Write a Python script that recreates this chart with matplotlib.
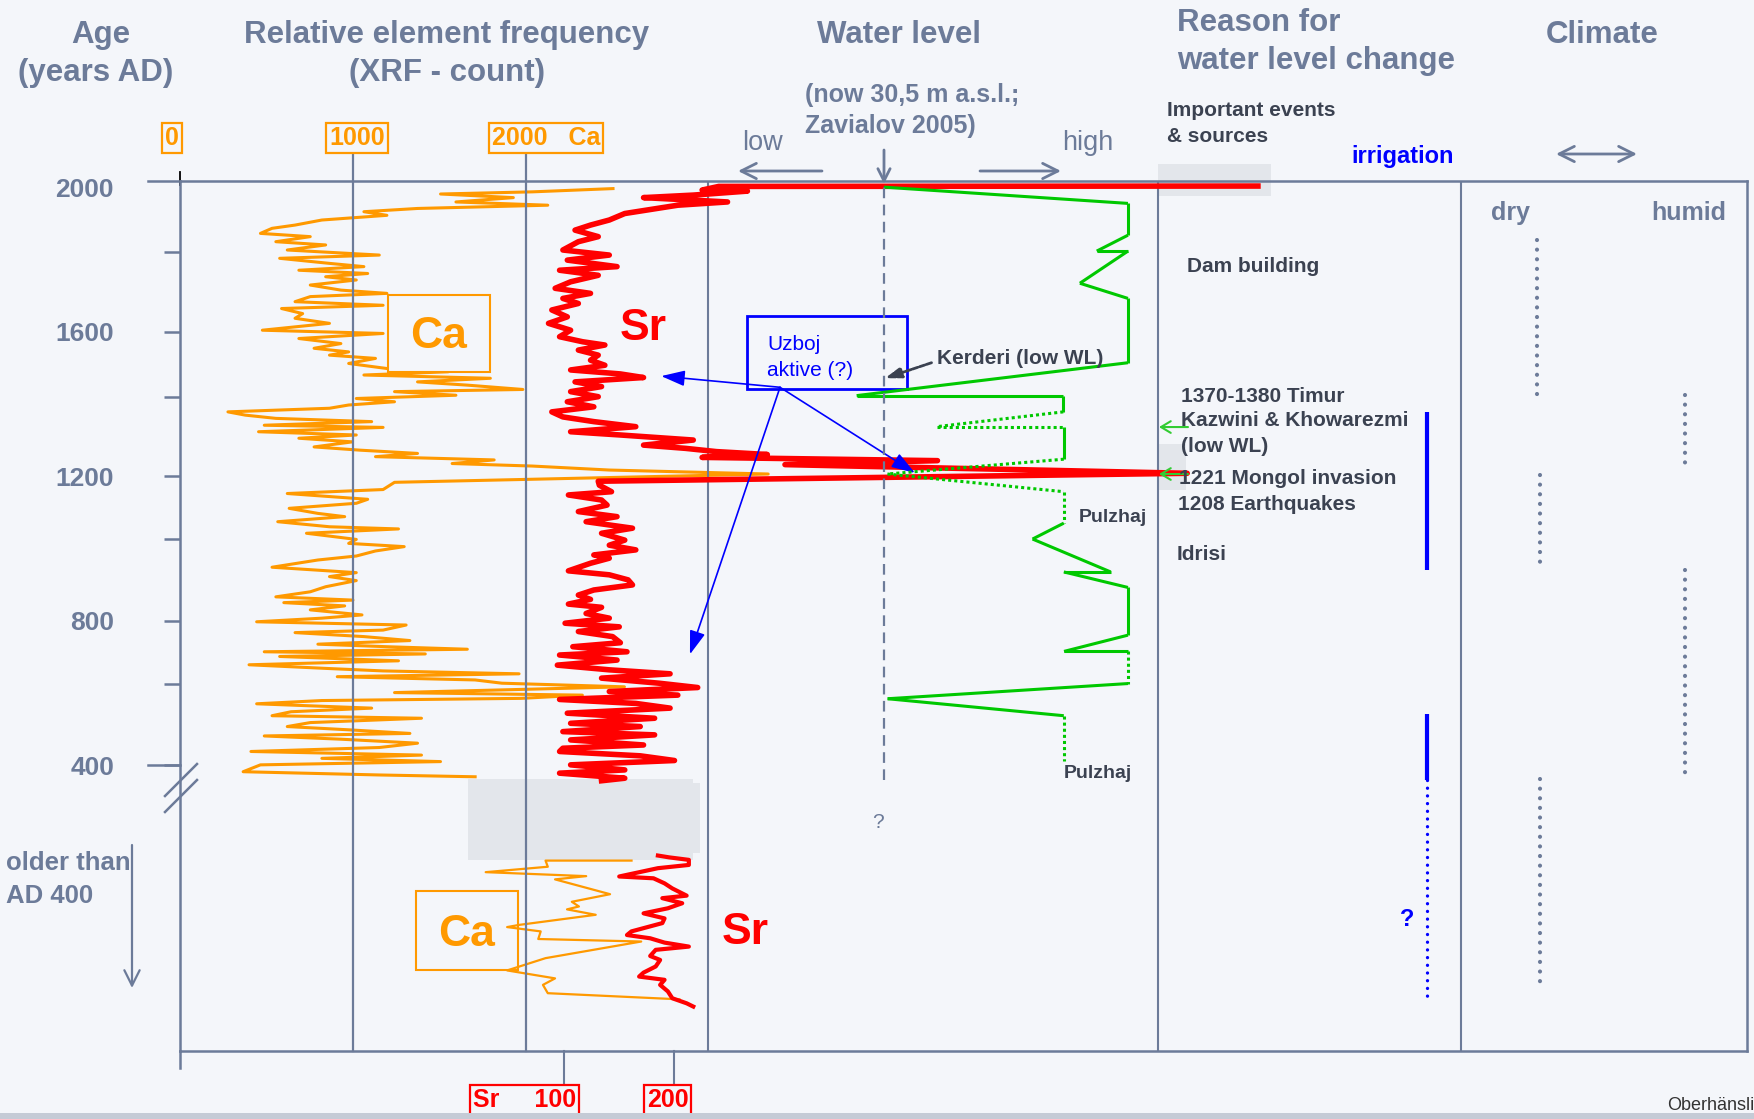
import matplotlib.pyplot as plt
from matplotlib.patches import Rectangle
from matplotlib.transforms import Affine2D, blended_transform_factory as blend

W, H = 1754, 1119
BG = '#f4f6fa'
SLATE = '#6c7b99'
DARK = '#3b4251'
ORANGE = '#ff9900'
RED = '#ff0000'
GREEN = '#00c800'
BLUE = '#0000ff'
SHADE = '#e3e6eb'

plt.rcParams['font.family'] = ['Liberation Sans', 'DejaVu Sans']

# ---------------- data ----------------
age_ticks = [2000, 1600, 1200, 800, 400]
age_minor = [1820, 1420, 1025, 625]
ca_ticks = [0, 1000, 2000]
sr_ticks = [100, 200]

# Ca (XRF counts) against age AD
ca_age = [1996, 1987, 1981, 1971, 1959, 1950, 1941, 1932, 1922, 1909, 1895, 1886, 1872, 1863,
          1849, 1840, 1826, 1812, 1803, 1789, 1780, 1770, 1761, 1752, 1743, 1729, 1715, 1706,
          1697, 1683, 1673, 1664, 1650, 1637, 1623, 1604, 1595, 1581, 1567, 1554, 1544, 1535,
          1526, 1512, 1498, 1489, 1480, 1471, 1461, 1452, 1440, 1434, 1424, 1415, 1406, 1397,
          1388, 1378, 1369, 1360, 1351, 1341, 1335, 1323, 1314, 1305, 1295, 1281, 1272, 1263,
          1254, 1245, 1235, 1228, 1217, 1206, 1183, 1163, 1152, 1136, 1125, 1111, 1097, 1088,
          1074, 1060, 1054, 1042, 1025, 1014, 1005, 993, 979, 968, 948, 933, 922, 911, 894,
          880, 866, 857, 850, 841, 830, 816, 807, 797, 788, 774, 767, 756, 745, 735, 728, 721,
          714, 708, 701, 689, 678, 668, 661, 653, 645, 636, 627, 617, 610, 601, 594, 585, 579,
          570, 558, 548, 537, 530, 518, 507, 498, 488, 481, 472, 461, 449, 438, 428, 419, 410,
          401, 382, 373, 368]
ca_count = [2503, 2038, 1506, 1927, 1595, 2126, 1373, 1063, 1196, 820, 665, 532, 465, 753,
            554, 842, 620, 1152, 576, 864, 1063, 687, 1085, 842, 1019, 753, 930, 1196,
            753, 665, 1174, 587, 709, 665, 864, 476, 1174, 687, 930, 775, 975, 864,
            1130, 975, 1196, 1551, 1063, 1794, 1373, 1661, 1982, 1240, 1595, 1019, 1240, 975,
            864, 277, 377, 554, 1108, 487, 1174, 454, 1019, 687, 997, 775, 1041, 1373,
            1130, 1816, 1573, 2038, 2481, 3400, 1240, 1174, 620, 1085, 1019, 631, 797, 952,
            565, 864, 1263, 731, 1019, 975, 1296, 1130, 1019, 797, 532, 1019, 864, 1019, 842,
            753, 554, 1000, 600, 952, 753, 1052, 820, 443, 1307, 1174, 665, 1063, 1329, 797, 1196, 1661,
            487, 1418, 576, 1263, 399, 842, 1174, 1960, 909, 1706, 1861, 2569, 1994, 1240, 2326, 1971, 820,
            443, 1108, 642, 532, 1396, 753, 620, 975, 1329, 487, 930, 1373, 1152, 410, 1396, 820, 1506,
            465, 365, 1152, 1706]

# Sr (XRF counts) against age AD
sr_age = [2003, 2002, 1992, 1989, 1978, 1971, 1959, 1950, 1927, 1909, 1895, 1881, 1863, 1849,
          1826, 1812, 1798, 1780, 1770, 1756, 1738, 1720, 1706, 1692, 1678, 1660, 1641, 1623,
          1604, 1586, 1572, 1563, 1549, 1535, 1521, 1507, 1494, 1483, 1473, 1461, 1448, 1434,
          1420, 1406, 1392, 1378, 1364, 1351, 1337, 1323, 1314, 1300, 1286, 1277, 1268, 1260,
          1252, 1243, 1232, 1208, 1186, 1175, 1157, 1148, 1134, 1120, 1102, 1088, 1074, 1056,
          1042, 1023, 1009, 996, 982, 973, 959, 938, 927, 913, 899, 885, 871, 859, 846, 837,
          820, 807, 793, 783, 770, 756, 739, 728, 714, 705, 691, 677, 664, 653, 641, 627, 615,
          604, 594, 582, 571, 558, 544, 530, 516, 507, 493, 484, 470, 456, 447, 438, 426, 413,
          401, 387, 378, 364, 357]
sr_count = [728, 240, 225, 266, 217, 172, 248, 203, 155, 141, 124, 110, 131, 113,
            99, 141, 103, 148, 96, 131, 106, 92, 124, 99, 113, 89, 103, 86,
            106, 96, 117, 137, 113, 131, 124, 137, 106, 151, 172, 110, 134, 106,
            131, 103, 127, 89, 99, 127, 165, 106, 151, 217, 172, 210, 238, 284,
            225, 438, 300, 664, 131, 132, 143, 104, 134, 139, 113, 148, 120, 162,
            134, 155, 141, 165, 127, 141, 124, 104, 141, 158, 162, 127, 113, 124, 104, 134,
            120, 141, 101, 150, 113, 144, 151, 108, 157, 96, 148, 94, 141, 196, 134, 186, 221,
            141, 203, 96, 165, 196, 103, 182, 106, 169, 99, 182, 106, 172, 99, 96, 169, 200,
            106, 155, 96, 155, 134]

# sediments older than AD 400, plotted below the axis break
ca_old_pos = [136, 136, 119, 104, 93, 84, 43, 22, 9, 1, -14, -42, -48, -60, -81, -88, -134,
              -168, -190, -208, -231, -248]
ca_old_count = [2610, 2113, 2126, 1767, 2348, 2168, 2486, 2265, 2306, 2237, 2403, 1960, 1891,
                2085, 2071, 2666, 2113, 1891, 2168, 2098, 2126, 2887]
sr_old_pos = [150, 145, 138, 124, 115, 92, 87, 73, 59, 39, 32, 18, 4, -10, -24, -37, -60, -70,
              -79, -91, -102, -111, -128, -139, -157, -174, -185, -194, -208, -226, -245, -259, -268]
sr_old_count = [185, 195, 213, 213, 185, 150, 181, 191, 198, 211, 189, 207, 194, 172, 191, 189,
                161, 157, 178, 191, 213, 183, 178, 187, 183, 172, 168, 191, 187, 194, 198, 211, 217]

# relative water level (0 = today, 1 = highest stand)
wl_age = [2000, 1955, 1867, 1823, 1823, 1734, 1692, 1514, 1423, 1423, 1378, 1337, 1337, 1247,
          1206, 1157, 1070, 1026, 935, 935, 892, 760, 715, 715, 626, 584, 537, 413]
wl_level = [0.0, 1.0, 1.0, 0.872, 1.0, 0.803, 1.0, 1.0, -0.112, 0.735, 0.735, 0.216, 0.737,
            0.737, 0.014, 0.737, 0.737, 0.609, 0.929, 0.737, 1.0, 1.0, 0.738, 1.0, 1.0, 0.015,
            0.737, 0.737]
wl_uncertain = [0, 0, 0, 0, 0, 0, 0, 0, 0, 0, 1, 1, 0, 1, 1, 1, 0, 0, 0, 0, 0, 0, 0, 1, 0, 0, 1]

irrigation = [(1378, 939), (541, 358)]
irrigation_uncertain = [(358, -241)]
dry_periods = [(1855, 1416), (1203, 942), (363, -209)]
humid_periods = [(1424, 1215), (940, 373)]
wl_low_events = [1336, 1206]

# ---------------- layout ----------------
fig = plt.figure(figsize=(W / 100, H / 100), dpi=100, facecolor=BG)
px = Affine2D().scale(1 / W, -1 / H).translate(0, 1) + fig.transFigure

L, R, T, B = 180, 1747, 181, 1051
ax = fig.add_axes([L / W, 1 - B / H, (R - L) / W, (B - T) / H])
ax.set_facecolor(BG)
ax_sr = ax.twiny()
ax_wl = ax.twiny()
for a in (ax_sr, ax_wl):
    a.axis('off')

for s in ax.spines.values():
    s.set_color(SLATE)
    s.set_linewidth(1.8)

ax.tick_params(axis='x', which='both', bottom=False, top=False, labelbottom=False, labeltop=False)
ax.set_yticks(age_ticks)
ax.set_yticklabels([str(a) for a in age_ticks])
ax.set_yticks(age_minor, minor=True)
ax.tick_params(axis='y', which='both', direction='out', length=11.5, width=1.8, color=SLATE,
               labelsize=19, labelcolor=SLATE, pad=36)
for lab in ax.get_yticklabels():
    lab.set_fontweight('bold')

xb = blend(ax.transData, ax.transAxes)
yb = blend(ax.transAxes, ax.transData)
ev = blend(px, ax.transData)

# long ticks: the top frame edge and the 400 mark; spine runs past the bottom
ax.yaxis.get_major_ticks()[0].tick1line.set_visible(False)
ax.plot([-32 / (R - L), 0], [1, 1], transform=ax.transAxes, clip_on=False, color=SLATE, lw=1.8)
ax.plot([-32 / (R - L), 0], [age_ticks[-1]] * 2, transform=yb, clip_on=False, color=SLATE, lw=1.8)
ax.plot([0, 0], [0, -17 / (B - T)], transform=ax.transAxes, clip_on=False, color=SLATE, lw=1.8)
ax.plot([0, 0], [1 - 4 / (B - T), 1 + 9 / (B - T)], transform=ax.transAxes, clip_on=False,
        color='black', lw=1.3)

# axis break marks
for dy in (0, 16):
    ax.plot([165, 197], [796 + dy, 764 + dy], transform=px, clip_on=False, color=SLATE, lw=1.8)

# Ca grid lines running up to the scale labels
for v in ca_ticks[1:]:
    ax.plot([v, v], [0, 1.03], transform=xb, clip_on=False, color=SLATE, lw=1.6, zorder=2.6)

# panel separators
for x in (708, 1158, 1461):
    ax.plot([x, x], [T, B], transform=px, color=SLATE, lw=1.5, zorder=2.6)

# shaded areas
for (x0, y0, x1, y1) in [(1158, 164, 1271, 196), (1158, 444, 1186, 490),
                         (468, 779, 693, 860), (478, 783, 700, 853)]:
    ax.add_patch(Rectangle((x0, y0), x1 - x0, y1 - y0, transform=px, fc=SHADE, ec='none',
                           zorder=0.5, clip_on=False))

# ---------------- XRF curves ----------------
ax.plot(ca_count, ca_age, color=ORANGE, lw=2.2, zorder=2)
ax.plot(ca_old_count, ca_old_pos, color=ORANGE, lw=1.6, zorder=2)
ax.add_patch(Rectangle((388, 295), 102, 77, transform=px, fc=BG, ec=ORANGE, lw=1.5, zorder=2.5))
ax.add_patch(Rectangle((416, 891), 102, 79, transform=px, fill=False, ec=ORANGE, lw=1.5, zorder=1.5))

ax_sr.plot(sr_count, sr_age, color=RED, lw=4, zorder=2)
ax_sr.plot(sr_old_count, sr_old_pos, color=RED, lw=3, zorder=2)

# Sr scale below the frame
sb = blend(ax_sr.transData, ax_sr.transAxes)
for v in sr_ticks:
    ax_sr.plot([v, v], [0, -32 / (B - T)], transform=sb, clip_on=False, color=SLATE, lw=1.5)
box_red = dict(boxstyle='square,pad=0.12', fc='none', ec=RED, lw=1.6)
ax_sr.annotate('Sr     100', xy=(sr_ticks[0], 0), xycoords=sb, xytext=(12, -49),
               textcoords='offset pixels', ha='right', va='center', fontsize=18,
               fontweight='bold', color=RED, bbox=box_red, annotation_clip=False)
ax_sr.annotate('200', xy=(sr_ticks[1], 0), xycoords=sb, xytext=(-7, -49),
               textcoords='offset pixels', ha='center', va='center', fontsize=18,
               fontweight='bold', color=RED, bbox=box_red, annotation_clip=False)

# Ca scale above the frame
box_or = dict(boxstyle='square,pad=0.12', fc='none', ec=ORANGE, lw=1.6)
ax.annotate('0', xy=(ca_ticks[0], 1), xycoords=xb, xytext=(-8, 43), textcoords='offset pixels',
            ha='center', va='center', fontsize=18, fontweight='bold', color=ORANGE, bbox=box_or,
            annotation_clip=False)
ax.annotate('1000', xy=(ca_ticks[1], 1), xycoords=xb, xytext=(4, 43), textcoords='offset pixels',
            ha='center', va='center', fontsize=18, fontweight='bold', color=ORANGE, bbox=box_or,
            annotation_clip=False)
ax.annotate('2000   Ca', xy=(ca_ticks[2], 1), xycoords=xb, xytext=(-34, 43),
            textcoords='offset pixels', ha='left', va='center', fontsize=18, fontweight='bold',
            color=ORANGE, bbox=box_or, annotation_clip=False)

# ---------------- water level ----------------
for i in range(len(wl_age) - 1):
    ls = (0, (1, 1)) if wl_uncertain[i] else '-'
    ax_wl.plot(wl_level[i:i + 2], wl_age[i:i + 2], color=GREEN, lw=2.2, ls=ls,
               solid_capstyle='butt')
ax_wl.plot([0, 0], [360, 2016], color=SLATE, lw=1.6, ls=(0, (4.8, 2.9)))

arrow_kw = dict(arrowstyle='->,head_length=0.5,head_width=0.25', color=SLATE, lw=2,
                mutation_scale=22, shrinkA=0, shrinkB=0)
ax.annotate('', xy=(884, 184), xycoords=px, xytext=(884, 150), textcoords=px,
            arrowprops=dict(arrow_kw, arrowstyle='->,head_length=0.4,head_width=0.2'))
ax.annotate('', xy=(738, 171), xycoords=px, xytext=(822, 171), textcoords=px, arrowprops=arrow_kw)
ax.annotate('', xy=(1061, 171), xycoords=px, xytext=(980, 171), textcoords=px, arrowprops=arrow_kw)
ax.annotate('', xy=(1637, 154), xycoords=px, xytext=(1556, 154), textcoords=px,
            arrowprops=dict(arrow_kw, arrowstyle='<->,head_length=0.5,head_width=0.25'))

# Kerderi pointer
ax_wl.annotate('', xy=(0.004, 1471), xytext=(0.195, 1514),
               arrowprops=dict(arrowstyle='-|>,head_length=0.6,head_width=0.2', color=DARK,
                               lw=2, ls=(0, (2, 0.6)), mutation_scale=16, shrinkA=0, shrinkB=0))

# Uzboj pointers
uz = (295.5, 1446)
blue_kw = dict(arrowstyle='-|>,head_length=0.9,head_width=0.3', color=BLUE, lw=1.2,
               mutation_scale=16, shrinkA=0, shrinkB=0)
ax_sr.annotate('', xy=(188, 1477), xytext=uz, arrowprops=blue_kw)
ax_sr.annotate('', xy=(214, 707), xytext=uz, arrowprops=blue_kw)
ax_sr.annotate('', xy=(0.127, 1209), xycoords=ax_wl.transData, xytext=uz,
               textcoords=ax_sr.transData, arrowprops=blue_kw)
ax_sr.add_patch(Rectangle((747, 316), 160, 73, transform=px, fill=False, ec=BLUE, lw=2,
                          clip_on=False))

# low water level markers at the events column
for a in wl_low_events:
    ax_wl.annotate('', xy=(1159, a), xycoords=ev, xytext=(1188, a), textcoords=ev,
                   arrowprops=dict(arrowstyle='->,head_length=0.5,head_width=0.3',
                                   color='#33cc33', lw=1.5, mutation_scale=14,
                                   shrinkA=0, shrinkB=0))

# irrigation periods
for a0, a1 in irrigation:
    ax_wl.plot([1427, 1427], [a0, a1], transform=ev, color=BLUE, lw=3, solid_capstyle='butt')
for a0, a1 in irrigation_uncertain:
    ax_wl.plot([1427, 1427], [a0, a1], transform=ev, color=BLUE, lw=2.4,
               ls=(0, (0.01, 2.3)), dash_capstyle='round')

# climate phases
for (a0, a1), x in zip(dry_periods, (1537, 1540, 1540)):
    ax_wl.plot([x, x], [a0, a1], transform=ev, color=SLATE, lw=3, ls=(0, (0.01, 2.3)),
               dash_capstyle='round')
for a0, a1 in humid_periods:
    ax_wl.plot([1685, 1685], [a0, a1], transform=ev, color=SLATE, lw=3, ls=(0, (0.01, 2.3)),
               dash_capstyle='round')

ax.set_xlim(0, 9058)
ax_sr.set_xlim(-247.5, 1170.6)
ax_wl.set_xlim(-2.885, 3.537)
ax.set_ylim(-391, 2017)


# ---------------- text ----------------
def txt(x, y, s, size, color=SLATE, weight='bold', ha='left', **kw):
    fig.text(x, y + 3, s, transform=px, fontsize=size, color=color, fontweight=weight, ha=ha,
             va='center', **kw)


txt(101, 32, 'Age', 22.5, ha='center')
txt(96, 70, '(years AD)', 22.5, ha='center')
txt(447, 32, 'Relative element frequency', 22.5, ha='center')
txt(447, 70, '(XRF - count)', 22.5, ha='center')
txt(899, 32, 'Water level', 22.5, ha='center')
txt(805, 92, '(now 30,5 m a.s.l.;', 18)
txt(805, 123, 'Zavialov 2005)', 18)
txt(762, 140, 'low', 19.5, ha='center', weight='normal')
txt(1088, 140, 'high', 19.5, ha='center', weight='normal')
txt(1177, 20, 'Reason for', 22.5)
txt(1177, 58, 'water level change', 22.5)
txt(1602, 32, 'Climate', 22.5, ha='center')

txt(1167, 108, 'Important events', 15, color=DARK)
txt(1167, 134, '& sources', 15, color=DARK)
txt(1403, 154, 'irrigation', 17, color=BLUE, ha='center')
txt(1510, 210, 'dry', 18, ha='center')
txt(1689, 210, 'humid', 18, ha='center')

txt(1187, 263, 'Dam building', 15, color=DARK)
txt(1181, 393, '1370-1380 Timur', 15, color=DARK)
txt(1181, 418, 'Kazwini & Khowarezmi', 15, color=DARK)
txt(1181, 443, '(low WL)', 15, color=DARK)
txt(1179, 475, '1221 Mongol invasion', 15, color=DARK)
txt(1178, 501, '1208 Earthquakes', 15, color=DARK)
txt(1177, 552, 'Idrisi', 15, color=DARK)

txt(937, 355, 'Kerderi (low WL)', 15, color=DARK)
txt(1079, 515, 'Pulzhaj', 14, color=DARK)
txt(1064, 770, 'Pulzhaj', 14, color=DARK)
txt(878, 820, '?', 15, weight='normal', ha='center')
txt(1407, 917, '?', 17, color=BLUE, ha='center')

txt(767, 342, 'Uzboj', 15, color=BLUE, weight='normal')
txt(767, 367, 'aktive (?)', 15, color=BLUE, weight='normal')

txt(439, 334, 'Ca', 32, color=ORANGE, ha='center')
txt(643, 325, 'Sr', 32, color=RED, ha='center')
txt(467, 931, 'Ca', 32, color=ORANGE, ha='center')
txt(745, 930, 'Sr', 32, color=RED, ha='center')

txt(6, 860, 'older than', 18.5)
txt(6, 893, 'AD 400', 18.5)
ax.annotate('', xy=(132, 988), xycoords=px, xytext=(132, 845), textcoords=px,
            arrowprops=dict(arrow_kw, lw=1.6))

txt(1754, 1103, 'Oberhänsli', 13, color='#333333', weight='normal', ha='right')
fig.patches.append(Rectangle((0, 1113), W, 6, transform=px, fc='#c5cbd6', ec='none'))

fig.savefig('out.png', dpi=100, facecolor=BG)
